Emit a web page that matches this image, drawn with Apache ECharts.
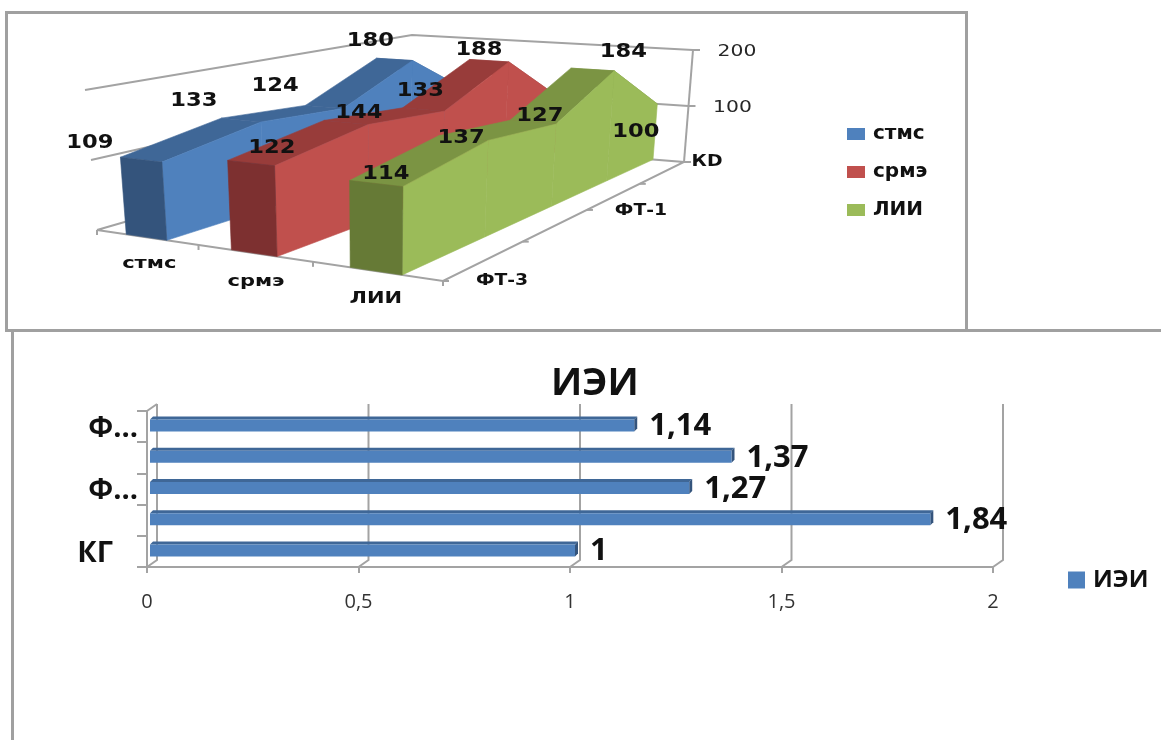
<!DOCTYPE html>
<html>
<head>
<meta charset="utf-8">
<style>html,body{margin:0;padding:0;background:#fff}#c{width:1161px;height:740px}</style>
<script src="https://cdn.jsdelivr.net/npm/echarts@6/dist/echarts.min.js"></script>
</head>
<body>
<div id="c"></div>
<script>
// Values for the upper 3D area chart
const seriesNames = ['стмс', 'срмэ', 'ЛИИ'];
const depthLabels = ['ФТ-3', '', 'ФТ-1', '', 'КD'];
const stmcValues = [109, 133, 124, 180, 100];
const srmeValues = [122, 144, 133, 188, 100];
const liiValues = [114, 137, 127, 184, 100];
const valueTicks = [100, 200];

// Values for the lower bar chart
const barCategories = ['КГ', '', 'Ф...', '', 'Ф...'];
const barValues = [1, 1.84, 1.27, 1.37, 1.14];
const barTicks = [0, 0.5, 1, 1.5, 2];
const barSeriesName = 'ИЭИ';

const allValues = [stmcValues, srmeValues, liiValues];

// Box corners of the 3D view: floor plane and the plane at the axis maximum
const FLOOR = [[97, 230], [443, 281], [684, 162], [408, 140]];
const CEIL = [[85, 90], [446, 124], [693, 50], [412, 35]];
const SLAB = [0.3, 0.7];
const FACE = [
  {side: '#4f81bd', top: '#3f6797', front: '#34547c'},
  {side: '#c0504d', top: '#983c3a', front: '#7d3030'},
  {side: '#9bbb59', top: '#7b9443', front: '#667a36'}
];
// Offsets of the value labels from their ridge points
const LABEL_SHIFT = [
  [[-51, -17], [-47, -19], [-49, -21], [-24, -19], null],
  [[21, -15], [13, -10], [-3, -19], [-10, -11], null],
  [[10, -10], [-2, 0], [7, -6], [31, -18], [-1, 29]]
];
const FONT3D = '"DejaVu Sans"';
const LINE = '#a3a3a3';

function quadMap(q) {
  const [x0, y0] = q[0], [x1, y1] = q[1], [x2, y2] = q[2], [x3, y3] = q[3];
  const dx1 = x1 - x2, dx2 = x3 - x2, sx = x0 - x1 + x2 - x3;
  const dy1 = y1 - y2, dy2 = y3 - y2, sy = y0 - y1 + y2 - y3;
  const den = dx1 * dy2 - dx2 * dy1;
  const g = (sx * dy2 - dx2 * sy) / den, h = (dx1 * sy - sx * dy1) / den;
  const a = x1 - x0 + g * x1, b = x3 - x0 + h * x3;
  const d = y1 - y0 + g * y1, e = y3 - y0 + h * y3;
  return (u, v) => {
    const w = g * u + h * v + 1;
    return [(a * u + b * v + x0) / w, (d * u + e * v + y0) / w];
  };
}
const floorMap = quadMap(FLOOR), ceilMap = quadMap(CEIL);

// Projects lateral position, depth index and value through the hidden axes
function project(params, api, lateral, depth, value) {
  const r = params.coordSys;
  const p = api.coord([depth, value]);
  const dn = (p[0] - r.x) / r.width;
  const vn = (r.y + r.height - p[1]) / r.height;
  const a = floorMap(lateral, dn), b = ceilMap(lateral, dn);
  return [a[0] + (b[0] - a[0]) * vn, a[1] + (b[1] - a[1]) * vn];
}

function text3d(str, pos, size, weight, stretch, color) {
  return {
    type: 'text', x: pos[0], y: pos[1], scaleX: stretch,
    style: {text: str, fontFamily: FONT3D, fontSize: size, fontWeight: weight,
      textAlign: 'center', textVerticalAlign: 'middle', fill: color || '#111'}
  };
}

function line(points, width) {
  return {type: 'polyline', shape: {points}, style: {stroke: LINE, lineWidth: width || 2, fill: null}};
}

function face(points, color) {
  return {type: 'polygon', shape: {points}, style: {fill: color, stroke: color, lineWidth: 0.6}};
}

// Walls, floor edges, ticks and axis names of the 3D view
function renderBox(params, api) {
  const P = (l, d, v) => project(params, api, l, d, v);
  const last = depthLabels.length - 1;
  const kids = [];
  valueTicks.forEach(v => {
    kids.push(line([P(0, 0, v), P(0, last, v), P(1, last, v)]));
    const e = P(1, last, v);
    kids.push(line([e, [e[0] + 7, e[1]]]));
    kids.push(text3d(String(v), [e[0] + 44, e[1] + 2], 16, 'normal', 1.27, '#262626'));
  });
  kids.push(line([P(0, 0, 0), P(0, last, 0), P(1, last, 0), P(1, 0, 0), P(0, 0, 0)]));
  kids.push(line([P(1, last, 0), P(1, last, 200)]));
  kids.push(line([P(1, last, 0), (p => [p[0] + 7, p[1]])(P(1, last, 0))]));
  for (let i = 0; i <= seriesNames.length; i++) {
    const p = P(i / seriesNames.length, 0, 0);
    kids.push(line([p, [p[0], p[1] + 5]]));
  }
  depthLabels.forEach((_, d) => {
    const p = P(1, d, 0);
    kids.push(line([p, [p[0] + 6, p[1]]]));
  });
  const catShift = [[3, 27], [2, 29], [0, 28]];
  seriesNames.forEach((n, i) => {
    const p = P((i + 0.5) / seriesNames.length, 0, 0);
    kids.push(text3d(n, [p[0] + catShift[i][0], p[1] + catShift[i][1]], 15, 'bold', 1.4));
  });
  const depthShift = [[59, 0], null, [54, 1], null, [23, 0]];
  depthLabels.forEach((n, d) => {
    if (!n) return;
    const p = P(1, d, 0);
    kids.push(text3d(n, [p[0] + depthShift[d][0], p[1] + depthShift[d][1]], 15, 'bold', 1.25));
  });
  return {type: 'group', children: kids};
}

// One ridge section of a slab, drawn back to front
function renderSlab(s) {
  return function (params, api) {
    const d = api.value(0), v = api.value(1);
    const last = depthLabels.length - 1;
    const nl = seriesNames.length;
    const u1 = (s + SLAB[0]) / nl, u2 = (s + SLAB[1]) / nl;
    const P = (l, dd, vv) => project(params, api, l, dd, vv);
    const kids = [];
    if (d < last) {
      const nv = allValues[s][d + 1];
      kids.push(face([P(u1, d, v), P(u1, d + 1, nv), P(u2, d + 1, nv), P(u2, d, v)], FACE[s].top));
      kids.push(face([P(u2, d, v), P(u2, d + 1, nv), P(u2, d + 1, 0), P(u2, d, 0)], FACE[s].side));
    }
    if (d === 0) {
      kids.push(face([P(u1, 0, v), P(u2, 0, v), P(u2, 0, 0), P(u1, 0, 0)], FACE[s].front));
    }
    return {type: 'group', children: kids};
  };
}

function renderSlabLabel(params, api) {
  const s = api.value(0), d = api.value(1), v = api.value(2);
  const shift = LABEL_SHIFT[s][d];
  if (!shift) return null;
  const nl = seriesNames.length;
  const r = params.coordSys;
  const c = api.coord([d, v]);
  const dn = (c[0] - r.x) / r.width, vn = (r.y + r.height - c[1]) / r.height;
  const l = (s + (SLAB[0] + SLAB[1]) / 2) / nl;
  const a = floorMap(l, dn), b = ceilMap(l, dn);
  const p = [a[0] + (b[0] - a[0]) * vn + shift[0], a[1] + (b[1] - a[1]) * vn + shift[1]];
  return text3d(String(v), p, 20, 'bold', 1.13);
}

// Back wall lines of the bar chart
const WALL = [10, -7];
function renderBarWall(params, api) {
  const r = params.coordSys;
  const x = api.coord([api.value(0), 0])[0];
  const bottom = r.y + r.height;
  const kids = [line([[x, bottom], [x + WALL[0], bottom + WALL[1]], [x + WALL[0], r.y + WALL[1]]], 2)];
  if (api.value(0) === 0) kids.push(line([[x, r.y], [x + WALL[0], r.y + WALL[1]]], 2));
  return {type: 'group', children: kids};
}

function renderBar(params, api) {
  const v = api.value(0);
  const c = api.coord([v, api.value(1)]);
  const z = api.coord([0, api.value(1)]);
  const x0 = z[0] + 3, x1 = c[0] + 5, y0 = c[1] - 7, y1 = c[1] + 5;
  return {
    type: 'group',
    children: [
      {type: 'polygon', shape: {points: [[x0, y0], [x0 + 3, y0 - 3], [x1 + 3, y0 - 3], [x1, y0]]}, style: {fill: '#3f6797'}},
      {type: 'polygon', shape: {points: [[x1, y0], [x1 + 3, y0 - 3], [x1 + 3, y1 - 3], [x1, y1]]}, style: {fill: '#34547c'}},
      {type: 'rect', shape: {x: x0, y: y0, width: x1 - x0, height: y1 - y0}, style: {fill: '#4f81bd'}},
      {type: 'text', x: c[0] + 20, y: c[1], style: {text: String(v).replace('.', ','),
        fontFamily: '"Open Sans"', fontWeight: 'bold', fontSize: 31, fill: '#111',
        textAlign: 'left', textVerticalAlign: 'middle'}}
    ]
  };
}

const slabSeries = seriesNames.map((name, s) => ({
  type: 'custom', name, xAxisIndex: 0, yAxisIndex: 0, z: 3 + s,
  coordinateSystem: 'cartesian2d',
  itemStyle: {color: FACE[s].side},
  renderItem: renderSlab(s),
  encode: {x: 0, y: 1},
  data: allValues[s].map((v, d) => [d, v]).reverse(),
  silent: true
}));

const labelRows = [];
allValues.forEach((vals, s) => vals.forEach((v, d) => labelRows.push([s, d, v])));

const option = {
  animation: false,
  backgroundColor: '#fff',
  graphic: [
    {type: 'rect', shape: {x: 6.5, y: 12.5, width: 960, height: 318}, style: {fill: null, stroke: '#a0a0a0', lineWidth: 3}, silent: true},
    {type: 'polyline', shape: {points: [[12.5, 740], [12.5, 330.5], [1161, 330.5]]}, style: {fill: null, stroke: '#a0a0a0', lineWidth: 3}, silent: true}
  ],
  title: {
    text: barSeriesName, left: 546, top: 360,
    textStyle: {fontFamily: '"Open Sans"', fontWeight: 'bold', fontSize: 38, color: '#111'}
  },
  legend: [
    {
      data: seriesNames, orient: 'vertical', left: 842, top: 119, itemWidth: 18, itemHeight: 12, itemGap: 18,
      icon: 'rect', selectedMode: false,
      textStyle: {fontFamily: FONT3D, fontWeight: 'bold', fontSize: 20, color: '#111', padding: [0, 0, 0, 3]}
    },
    {
      data: [barSeriesName], left: 1063, top: 563, itemWidth: 17, itemHeight: 17,
      icon: 'rect', selectedMode: false,
      textStyle: {fontFamily: '"Open Sans"', fontWeight: 'bold', fontSize: 24, color: '#111', padding: [0, 0, 0, 3]}
    }
  ],
  grid: [
    {left: 100, top: 40, width: 500, height: 200},
    {left: 147, top: 411, width: 846, height: 156}
  ],
  xAxis: [
    {gridIndex: 0, type: 'category', boundaryGap: false, data: depthLabels.map((n, i) => n || String(i)), show: false},
    {
      gridIndex: 1, type: 'value', min: 0, max: 2, interval: 0.5, splitLine: {show: false},
      axisLine: {show: true, lineStyle: {color: LINE, width: 2}},
      axisTick: {show: true, length: 6, lineStyle: {color: LINE, width: 2}},
      axisLabel: {margin: 25, fontFamily: '"Open Sans"', fontSize: 20, color: '#333',
        formatter: v => String(v).replace('.', ',')}
    }
  ],
  yAxis: [
    {gridIndex: 0, type: 'value', min: 0, max: 200, show: false},
    {
      gridIndex: 1, type: 'category', data: barCategories.map((n, i) => ({value: i + ':' + n})),
      axisLine: {show: true, lineStyle: {color: LINE, width: 2}},
      axisTick: {show: true, length: 10, lineStyle: {color: LINE, width: 2}},
      axisLabel: {
        interval: 0, margin: 9,
        formatter: v => {
          const n = v.split(':')[1];
          return n === 'КГ' ? '{g|' + n + '}' : '{f|' + n + '}';
        },
        rich: {
          f: {fontFamily: '"Open Sans"', fontWeight: 'bold', fontSize: 29, color: '#111', padding: [4, 0, 0, 0]},
          g: {fontFamily: '"Open Sans"', fontWeight: 'bold', fontSize: 29, color: '#111', padding: [4, 25, 0, 0]}
        }
      }
    }
  ],
  series: [
    {type: 'custom', name: 'box', xAxisIndex: 0, yAxisIndex: 0, z: 2, silent: true, renderItem: renderBox,
      encode: {x: 0, y: 1}, data: [[0, 0]]},
    ...slabSeries,
    {type: 'custom', name: 'labels', xAxisIndex: 0, yAxisIndex: 0, z: 10, silent: true, renderItem: renderSlabLabel,
      encode: {x: 1, y: 2}, data: labelRows},
    {type: 'custom', name: 'wall', xAxisIndex: 1, yAxisIndex: 1, z: 2, silent: true, renderItem: renderBarWall,
      encode: {x: 0, y: 1}, data: barTicks.map(t => [t, 0])},
    {type: 'custom', name: barSeriesName, xAxisIndex: 1, yAxisIndex: 1, z: 4, silent: true, renderItem: renderBar,
      itemStyle: {color: '#4f81bd'},
      encode: {x: 0, y: 1}, data: barValues.map((v, i) => [v, i])}
  ]
};

const chart = echarts.init(document.getElementById('c'), null, {renderer: 'canvas', width: 1161, height: 740});
chart.setOption(option);
</script>
</body>
</html>
